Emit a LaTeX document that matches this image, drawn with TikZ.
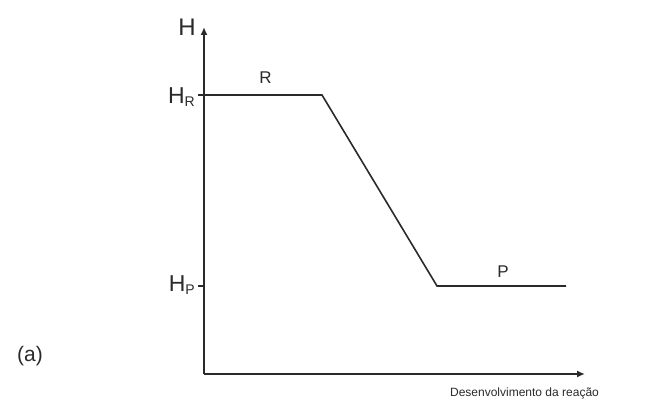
\documentclass[tikz,border=0pt]{standalone}
\usepackage{fontspec}
\setmainfont{Liberation Sans}
\usetikzlibrary{arrows.meta}
\definecolor{ink}{HTML}{2A2A2A}
\begin{document}
\begin{tikzpicture}[x=1pt,y=-1pt,
  axis/.style={draw=ink,line width=1.6pt,-{Latex[length=8pt,width=7pt]}},
  curve/.style={draw=ink,line width=1.6pt},
  tick/.style={draw=ink,line width=1.3pt},
  lbl/.style={text=ink,inner sep=0pt}]
\useasboundingbox (0,0) rectangle (659,403);
\coordinate (O) at (204,374);
\coordinate (Ytop) at (204,27);
\coordinate (Xend) at (585,374);
\draw[axis] (O) -- (Ytop);
\draw[axis] (O) -- (Xend);
\coordinate (r1) at (204,95);
\coordinate (r2) at (322,95);
\coordinate (p1) at (437,286);
\coordinate (p2) at (566,286);
\coordinate (tr) at (198,95);
\coordinate (tp) at (198,286);
\coordinate (pa) at (204,286);
\draw[curve] (r1) -- (r2) -- (p1) -- (p2);
\draw[tick] (tr) -- (r1);
\draw[tick] (tp) -- (pa);
\node[lbl,font=\fontsize{24}{24}\selectfont] (H) at (187,27) {H};
\node[lbl,font=\fontsize{23}{23}\selectfont,anchor=east] (HR) at (195,97) {H\raisebox{-0.3ex}{\fontsize{14}{14}\selectfont R}};
\node[lbl,font=\fontsize{23}{23}\selectfont,anchor=east] (HP) at (195,285) {H\raisebox{-0.3ex}{\fontsize{14}{14}\selectfont P}};
\node[lbl,font=\fontsize{17}{17}\selectfont] (R) at (265.5,78) {R};
\node[lbl,font=\fontsize{17}{17}\selectfont] (P) at (503,272) {P};
\node[lbl,font=\fontsize{21}{21}\selectfont] (a) at (30,356) {(a)};
\node[lbl,font=\fontsize{12}{12}\selectfont] (xl) at (524.5,393) {Desenvolvimento da reação};
\end{tikzpicture}
\end{document}
